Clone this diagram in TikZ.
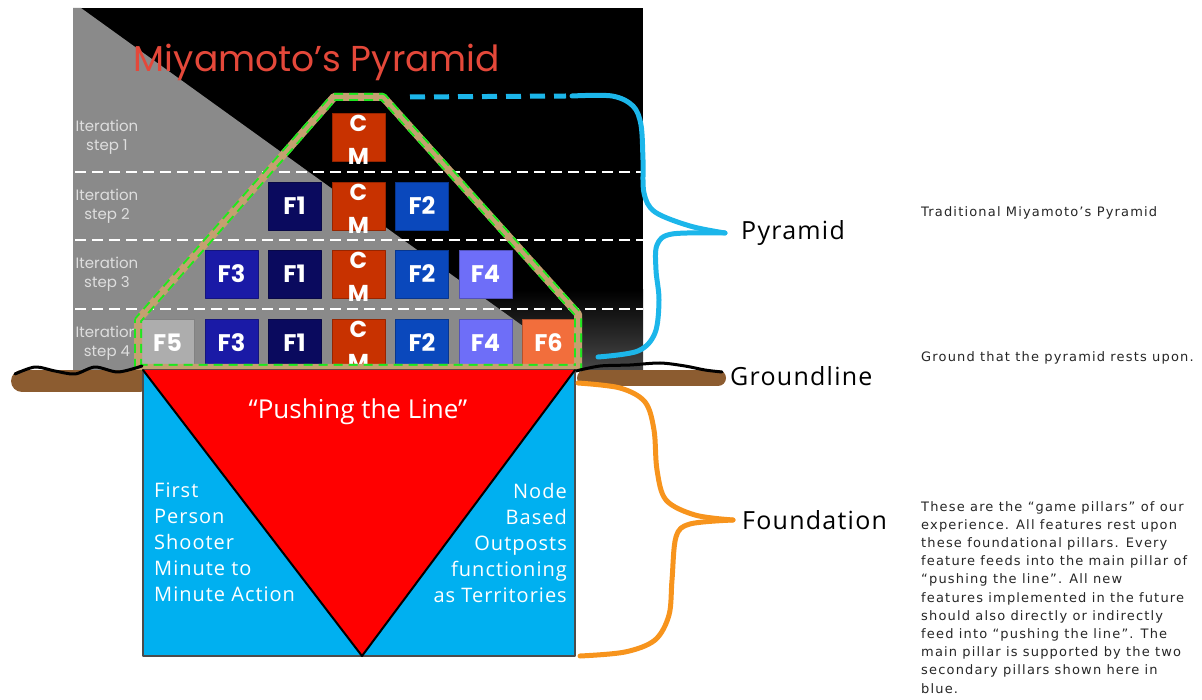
\documentclass[tikz,border=0pt]{standalone}
\usepackage{fontspec}
\setmainfont{Open Sans}
\newfontfamily\popfont{Poppins}
\newfontfamily\notefont{DejaVu Sans}[LetterSpace=9]
\newfontfamily\spacedfont{Open Sans}[LetterSpace=5]
\usetikzlibrary{positioning}
\definecolor{cmred}{HTML}{C83200}
\definecolor{fone}{HTML}{0A0A5E}
\definecolor{ftwo}{HTML}{0A48BC}
\definecolor{fthree}{HTML}{1A1AA6}
\definecolor{ffour}{HTML}{6E6EF8}
\definecolor{ffive}{HTML}{ADADAD}
\definecolor{fsix}{HTML}{F26E3C}
\definecolor{skyblue}{HTML}{00B0F0}
\definecolor{bracecyan}{HTML}{1CB6EA}
\definecolor{braceorange}{HTML}{F7941D}
\definecolor{soil}{HTML}{8C5C30}
\definecolor{outlinetan}{HTML}{C4A070}
\definecolor{outlinegreen}{HTML}{1EE81E}
\definecolor{titlered}{HTML}{E4483A}
\definecolor{panelgray}{HTML}{8A8A8A}
\definecolor{itergray}{HTML}{DEDEDE}
\begin{document}
\begin{tikzpicture}[x=1pt,y=-1pt,line cap=round,line join=round,
  blk/.style={minimum width=53pt,minimum height=48pt,inner sep=0pt,draw=#1!75!black,line width=0.8pt,fill=#1,
    text=white,font=\popfont\bfseries\fontsize{24}{24}\selectfont},
  cmtxt/.style={inner sep=0pt,text=white,font=\popfont\bfseries\fontsize{23}{23}\selectfont},
  iter/.style={align=center,inner sep=0pt,text=itergray,font=\popfont\fontsize{15}{19}\selectfont},
  brace/.style={line width=5pt,#1},
  lbl/.style={inner sep=0pt,font=\spacedfont\fontsize{25}{25}\selectfont},
  note/.style={inner sep=0pt,text=black!85,font=\notefont\fontsize{13}{18.2}\selectfont}]
  \useasboundingbox (0,0) rectangle (1202,700);
  \fill[black] (73,8) rectangle (643,370);
  \fill[top color=black,bottom color=black!72] (73,290) rectangle (643,370);
  \fill[panelgray] (73,8) -- (81,8) -- (584,370) -- (73,370) -- cycle;
  \node[text=titlered,font=\popfont\fontsize{36}{36}\selectfont] (title) at (317,62) {Miyamoto’s Pyramid};
  \foreach \r/\y in {1/137,2/206,3/274,4/343}
    \node[iter] (it\r) at (107,\y) {Iteration\\step \r};
  \foreach \y in {172,240,309}
    \draw[white,line width=2pt,line cap=butt,dash pattern=on 11pt off 6pt] (75,\y) -- (643,\y);
  \foreach \r/\y in {1/137,2/206,3/274,4/343} {
    \node[blk=cmred] (cm\r) at (358.5,\y) {};
    \node[cmtxt] (c\r) at (358.5,\y-14) {C};
    \node[cmtxt] (m\r) at (358.5,\y+19) {M};
  }
  \foreach \lab/\x/\r/\y/\c in {F1/294.5/2/206/fone,F2/422/2/206/ftwo,
      F3/231.5/3/274/fthree,F1/294.5/3/274/fone,F2/422/3/274/ftwo,F4/485.5/3/274/ffour,
      F5/167.5/4/343/ffive,F3/231.5/4/343/fthree,F1/294.5/4/343/fone,F2/422/4/343/ftwo,
      F4/485.5/4/343/ffour,F6/548.5/4/343/fsix}
    \node[blk=\c] (\lab-\r) at (\x,\y) {\lab};
  \draw[outlinetan,line width=8pt,
    postaction={draw,outlinegreen,line width=8pt,line cap=butt,dash pattern=on 9pt off 6pt},
    postaction={draw,outlinetan,line width=4pt}]
    (138,368) -- (138,320) -- (334,97) -- (383,97) -- (578,314) -- (578,368) -- cycle;
  \coordinate (ptip) at (725,233);
  \draw[brace=bracecyan,line cap=butt,dash pattern=on 15pt off 9pt] (410,97) -- (566,96);
  \draw[brace=bracecyan] plot[smooth,tension=0.55] coordinates {(572,96) (612,96) (633,106) (641,125) (643,160) (644,193) (655,212) (690,226) (725,233)};
  \draw[brace=bracecyan] plot[smooth,tension=0.55] coordinates {(725,233) (672,234) (657,245) (656,270) (659,300) (655,333) (638,351) (598,357)};
  \draw[soil,line width=22pt] (22,381) -- (140,381);
  \draw[soil,line width=16pt] (585,378) -- (718,378);
  \draw[line width=3pt] plot[smooth] coordinates {(15,374) (35,367) (55,371) (75,374) (95,367) (118,372) (142,366)};
  \draw[line width=3pt] plot[smooth] coordinates {(576,371) (600,366) (630,365) (660,363) (685,366) (705,370) (722,372)};
  \coordinate (gend) at (722,376);
  \coordinate (ftl) at (143,370);
  \coordinate (ftr) at (575,370);
  \coordinate (fbl) at (143,656);
  \coordinate (fbr) at (575,656);
  \coordinate (fbot) at (362,656);
  \filldraw[fill=skyblue,draw=black!70,line width=1.2pt] (ftl) rectangle (fbr);
  \fill[red] (ftl) -- (ftr) -- (fbot) -- cycle;
  \draw[line width=2pt] (ftl) -- (fbot) -- (ftr);
  \node[text=white,font=\fontsize{26}{26}\selectfont] (push) at (358,412) {“Pushing the Line”};
  \node[anchor=north west,align=left,inner sep=0pt,text=white,font=\spacedfont\fontsize{20}{26}\selectfont] (fps) at (154,483) {First\\Person\\Shooter\\Minute to\\Minute Action};
  \node[anchor=north east,align=right,inner sep=0pt,text=white,font=\spacedfont\fontsize{20}{26}\selectfont] (nbo) at (567,483) {Node\\Based\\Outposts\\functioning\\as Territories};
  \coordinate (ftip) at (733,520);
  \draw[brace=braceorange] plot[smooth,tension=0.55] coordinates {(578,383) (620,388) (645,402) (654,430) (657,470) (666,500) (695,515) (733,520)};
  \draw[brace=braceorange] plot[smooth,tension=0.55] coordinates {(733,520) (690,524) (676,537) (672,580) (669,615) (655,640) (625,652) (580,656)};
  \node[lbl,right=16pt of ptip] (pyr) {Pyramid};
  \node[lbl,right=8pt of gend] (grd) {Groundline};
  \node[lbl,right=9pt of ftip] (fnd) {Foundation};
  \node[note,anchor=west] (tnote) at (921,213) {Traditional Miyamoto’s Pyramid};
  \node[note,anchor=west] (gnote) at (921,358) {Ground that the pyramid rests upon.};
  \node[note,anchor=north west,align=left] (fnote) at (921,501) {These are the “game pillars” of our\\experience. All features rest upon\\these foundational pillars. Every\\feature feeds into the main pillar of\\“pushing the line”. All new\\features implemented in the future\\should also directly or indirectly\\feed into “pushing the line”. The\\main pillar is supported by the two\\secondary pillars shown here in\\blue.};
\end{tikzpicture}
\end{document}
